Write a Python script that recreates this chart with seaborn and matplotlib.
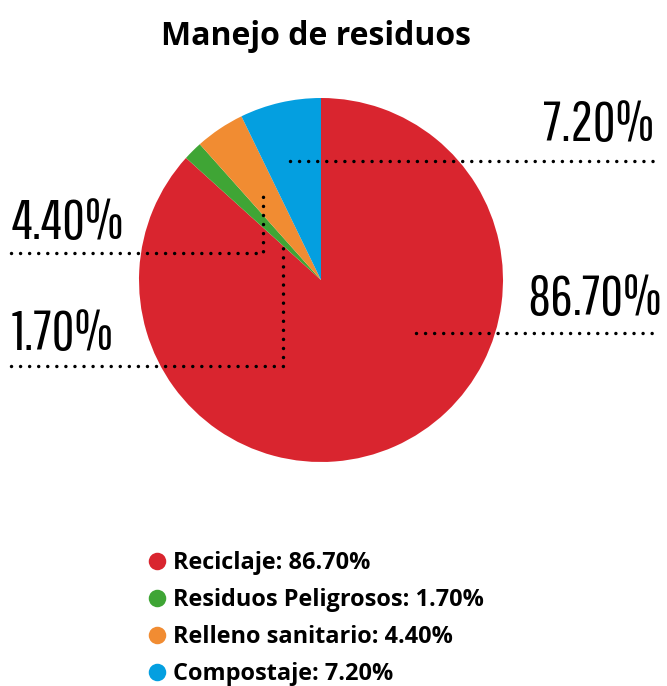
import matplotlib
matplotlib.use("Agg")
import matplotlib.pyplot as plt
import seaborn as sns

categories = ["Reciclaje", "Residuos Peligrosos", "Relleno sanitario", "Compostaje"]
values = [86.7, 1.7, 4.4, 7.2]
colors = ["#D9252F", "#3FA535", "#F18C32", "#049FE0"]

W, H = 667, 686


def Y(py):
    # pixel row (from top) -> data y
    return H - py


if __name__ == "__main__":
    sns.set_theme(style="white")
    plt.rcParams["font.family"] = ["Open Sans", "DejaVu Sans"]
    plt.rcParams["text.color"] = "black"

    fig = plt.figure(figsize=(W / 100, H / 100), dpi=100)
    ax = fig.add_axes([0, 0, 1, 1])

    ax.pie(values, colors=colors, startangle=90, counterclock=False,
           center=(321, Y(280)), radius=182,
           wedgeprops=dict(linewidth=0))
    ax.set_xlim(0, W)
    ax.set_ylim(0, H)
    ax.set_aspect("equal")
    ax.axis("off")

    # title
    ax.text(316, Y(45), "Manejo de residuos", ha="center", va="baseline",
            fontsize=23, fontweight="bold", color="black")

    # big percentage labels with dotted leaders
    big = dict(fontsize=40, color="black", va="baseline", fontweight=300,
               family=["Pathway Gothic One", "Oswald", "Antonio",
                       "Sofia Sans Extra Condensed", "DejaVu Sans"])
    dot = dict(color="black", lw=2.5, linestyle=(0, (0.01, 2.6)),
               dash_capstyle="round", solid_capstyle="round")

    ax.text(654, Y(141), f"{values[3]:.2f}%", ha="right", **big)
    ax.plot([290, 655], [Y(161), Y(161)], **dot)

    ax.text(662, Y(315), f"{values[0]:.2f}%", ha="right", **big)
    ax.plot([416, 655], [Y(333), Y(333)], **dot)

    ax.text(12, Y(239), f"{values[2]:.2f}%", ha="left", **big)
    ax.plot([11, 263, 263], [Y(253), Y(253), Y(190)], **dot)

    ax.text(12, Y(350), f"{values[1]:.2f}%", ha="left", **big)
    ax.plot([11, 283, 283], [Y(366), Y(366), Y(241)], **dot)

    # legend: coloured dots + bold labels
    for i, (name, val, col) in enumerate(zip(categories, values, colors)):
        yc = 561 + 37 * i
        ax.scatter([157], [Y(yc)], s=17 ** 2 * 0.55, color=col,
                   linewidths=0, zorder=3)
        ax.text(173, Y(yc + 8), f"{name}: {val:.2f}%", ha="left",
                va="baseline", fontsize=16.9, fontweight="bold",
                color="black")

    plt.savefig("out.png", dpi=100)
